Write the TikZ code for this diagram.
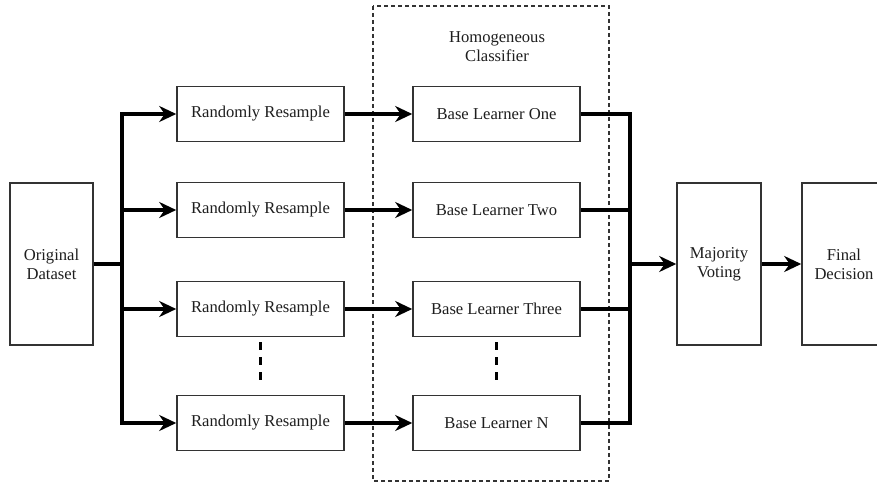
\documentclass[tikz,border=0pt]{standalone}
\usepackage{fontspec}
\setmainfont{Liberation Serif}
\usetikzlibrary{arrows.meta}
\definecolor{boxline}{HTML}{333333}
\definecolor{txt}{HTML}{1E1E1E}
\tikzset{
  block/.style={draw=boxline, line width=1.6pt, fill=white, text=txt,
    font=\fontsize{16.6}{19}\selectfont, align=center, inner sep=0pt},
  stepbox/.style={block, minimum width=167pt, minimum height=55pt},
  tallbox/.style={block, minimum width=84pt, minimum height=162pt},
  conn/.style={line width=3.3pt, black, line join=miter},
  arrowconn/.style={conn, -{Stealth[length=17pt, width=16pt, inset=5.5pt]}},
  groupframe/.style={draw=boxline, line width=1.2pt, dash pattern=on 4pt off 3pt},
  vdots/.style={line width=3.3pt, black, dash pattern=on 8pt off 7pt},
}
\begin{document}
\begin{tikzpicture}[x=1pt, y=-1pt]
  \useasboundingbox (0,0) rectangle (877,486);
  \clip (0,0) rectangle (877,486);

  % ensemble group frame and its title
  \draw[groupframe] (373,6) rectangle (609,481);
  \node[text=txt, font=\fontsize{16.6}{19}\selectfont, align=center] (title) at (497,47) {Homogeneous\\Classifier};

  % input, resampling and learners
  \node[tallbox, minimum width=83pt] (od) at (51.5,264) {Original\\Dataset};

  \node[stepbox] (rr1) at (260.5,114) {Randomly Resample};
  \node[stepbox] (rr2) at (260.5,210) {Randomly Resample};
  \node[stepbox] (rr3) at (260.5,309) {Randomly Resample};
  \node[stepbox] (rr4) at (260.5,423) {Randomly Resample};

  \node[stepbox] (bl1) at (496.5,114) {Base Learner One};
  \node[stepbox] (bl2) at (496.5,210) {Base Learner Two};
  \node[stepbox] (bl3) at (496.5,309) {Base Learner Three};
  \node[stepbox] (bl4) at (496.5,423) {Base Learner N};

  \node[tallbox] (mv) at (719,264) {Majority\\Voting};
  \node[tallbox] (fd) at (844,264) {Final\\Decision};

  % split and merge points
  \coordinate (split) at (122,264);
  \coordinate (merge) at (630,264);

  % fan-out to the resamplers
  \draw[conn] (od.east) -- (split);
  \foreach \r in {1,2,3,4} {
    \draw[arrowconn] (split) |- (rr\r.west);
    \draw[arrowconn] (rr\r.east) -- (bl\r.west);
    \draw[conn] (bl\r.east) -| (merge);
  }

  % vote and decision
  \draw[arrowconn] (merge) -- (mv.west);
  \draw[arrowconn] (mv.east) -- (fd.west);

  % elided rows
  \draw[vdots] ([yshift=-5pt]rr3.south) -- ([yshift=14pt]rr4.north);
  \draw[vdots] ([yshift=-5pt]bl3.south) -- ([yshift=14pt]bl4.north);
\end{tikzpicture}
\end{document}
